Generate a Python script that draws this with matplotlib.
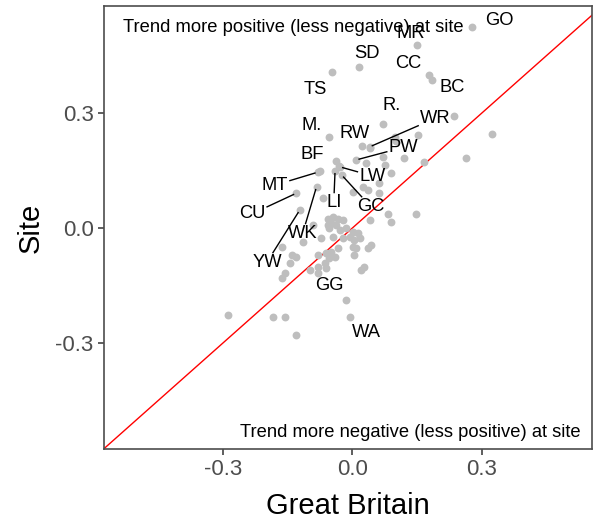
import numpy as np
import matplotlib.pyplot as plt

plt.rcParams['font.family'] = ['Liberation Sans', 'DejaVu Sans']

# ==========================
# Dati: trend sito vs Gran Bretagna
# ==========================

# siti con etichetta
site_codes = ["GO", "MR", "SD", "CC", "BC", "TS", "R.", "WR", "M.", "RW", "PW",
              "BF", "LW", "MT", "LI", "GC", "CU", "WK", "YW", "GG", "WA"]
site_gb = [0.278, 0.149, 0.015, 0.179, 0.185, -0.046, 0.072, 0.040, -0.055, 0.022, 0.009,
           -0.074, -0.029, -0.080, -0.040, -0.025, -0.130, -0.083, -0.122, -0.014, -0.006]
site_local = [0.526, 0.478, 0.421, 0.399, 0.386, 0.408, 0.273, 0.212, 0.238, 0.214, 0.178,
              0.150, 0.160, 0.146, 0.150, 0.139, 0.091, 0.108, 0.047, -0.188, -0.232]
# posizione etichette (ggrepel)
label_x = [0.341, 0.135, 0.033, 0.130, 0.232, -0.085, 0.091, 0.193, -0.094, 0.005, 0.119,
           -0.094, 0.047, -0.180, -0.043, 0.042, -0.233, -0.115, -0.198, -0.053, 0.033]
label_y = [0.543, 0.509, 0.457, 0.431, 0.368, 0.363, 0.321, 0.287, 0.269, 0.248, 0.211,
           0.191, 0.136, 0.112, 0.068, 0.057, 0.037, -0.013, -0.089, -0.149, -0.272]

# altri siti senza etichetta
other_gb = [0.237, 0.152, 0.323, 0.042, 0.098, 0.102, 0.071, -0.037, 0.167, 0.264,
            0.032, 0.075, 0.121, 0.090, 0.063, -0.068, 0.001, 0.024, 0.036, 0.063,
            0.148, 0.082, 0.089, 0.040, -0.056, -0.045, -0.033, -0.022, -0.049, -0.037,
            -0.056, -0.091, -0.053, -0.029, -0.014, 0.001, 0.013, -0.006, -0.022, 0.005,
            0.017, -0.072, -0.045, -0.114, -0.164, 0.044, 0.036, 0.001, 0.009, -0.033,
            -0.049, -0.060, -0.080, -0.053, -0.041, -0.141, -0.130, 0.005, -0.145, -0.064,
            -0.060, -0.080, -0.099, 0.028, 0.021, -0.157, -0.164, -0.080, -0.184, -0.157,
            -0.130, -0.288, -0.032]
other_local = [0.292, 0.243, 0.247, 0.209, 0.238, 0.227, 0.186, 0.175, 0.173, 0.182,
               0.169, 0.164, 0.183, 0.143, 0.117, 0.078, 0.095, 0.107, 0.099, 0.091,
               0.037, 0.037, 0.016, 0.021, 0.025, 0.030, 0.025, 0.021, 0.012, 0.008,
               0.008, 0.008, -0.001, -0.005, -0.001, -0.010, -0.014, -0.023, -0.027, -0.031,
               -0.027, -0.027, -0.023, -0.036, -0.049, -0.044, -0.053, -0.049, -0.053, -0.053,
               -0.062, -0.066, -0.070, -0.079, -0.075, -0.070, -0.075, -0.070, -0.092, -0.092,
               -0.105, -0.101, -0.110, -0.101, -0.110, -0.118, -0.131, -0.118, -0.232, -0.232,
               -0.279, -0.227, 0.162]

x_lim = (-0.576, 0.556)
y_lim = (-0.577, 0.580)
ticks = [-0.3, 0.0, 0.3]

# ==========================
# Grafico
# ==========================

fig = plt.figure(figsize=(5.93, 5.22), dpi=100)
ax = fig.add_axes([0.1754, 0.1398, 0.8229, 0.8487])

ax.scatter(other_gb, other_local, s=32, color="#BEBEBE", linewidths=0, zorder=2)
ax.scatter(site_gb, site_local, s=32, color="#BEBEBE", linewidths=0, zorder=2)

# linea 1:1
ax.plot([-1, 1], [-1, 1], color="red", linewidth=1.0, zorder=1)

ax.set_xlim(*x_lim)
ax.set_ylim(*y_lim)
ax.set_xticks(ticks)
ax.set_yticks(ticks)
ax.set_xticklabels(["-0.3", "0.0", "0.3"])
ax.set_yticklabels(["-0.3", "0.0", "0.3"])
ax.tick_params(labelsize=16, labelcolor="#4D4D4D", color="#333333", length=4, width=1.1)
for sp in ax.spines.values():
    sp.set_color("#4D4D4D")
    sp.set_linewidth(1.2)

ax.set_xlabel("Great Britain", fontsize=21, labelpad=8)
ax.set_ylabel("Site", fontsize=21, labelpad=8)

ax.text(-0.138, 0.525, "Trend more positive (less negative) at site", fontsize=13.2,
        ha="center", va="center")
ax.text(0.134, -0.533, "Trend more negative (less positive) at site", fontsize=13.2,
        ha="center", va="center")

# etichette + segmenti
testi = []
for code, lx, ly in zip(site_codes, label_x, label_y):
    testi.append(ax.text(lx, ly, code, fontsize=13.2, ha="center", va="center", zorder=4))

fig.canvas.draw()
renderer = fig.canvas.get_renderer()
inv = ax.transData.inverted()
for t, px, py, lx, ly in zip(testi, site_gb, site_local, label_x, label_y):
    bb = t.get_window_extent(renderer)
    cx, cy = ax.transData.transform((lx, ly))
    qx, qy = ax.transData.transform((px, py))
    dx, dy = qx - cx, qy - cy
    dist = np.hypot(dx, dy)
    hw, hh = bb.width / 2 + 2, bb.height / 2 + 1
    tt = min(hw / abs(dx) if dx != 0 else np.inf, hh / abs(dy) if dy != 0 else np.inf)
    sx, sy = cx + dx * tt, cy + dy * tt
    gap = dist * (1 - tt)
    if gap < 16:
        continue
    ex, ey = qx - dx / dist * 3, qy - dy / dist * 3
    (a0, b0), (a1, b1) = inv.transform([(sx, sy), (ex, ey)])
    ax.plot([a0, a1], [b0, b1], color="black", linewidth=1.0, zorder=3)

fig.savefig("out.png", dpi=100)
